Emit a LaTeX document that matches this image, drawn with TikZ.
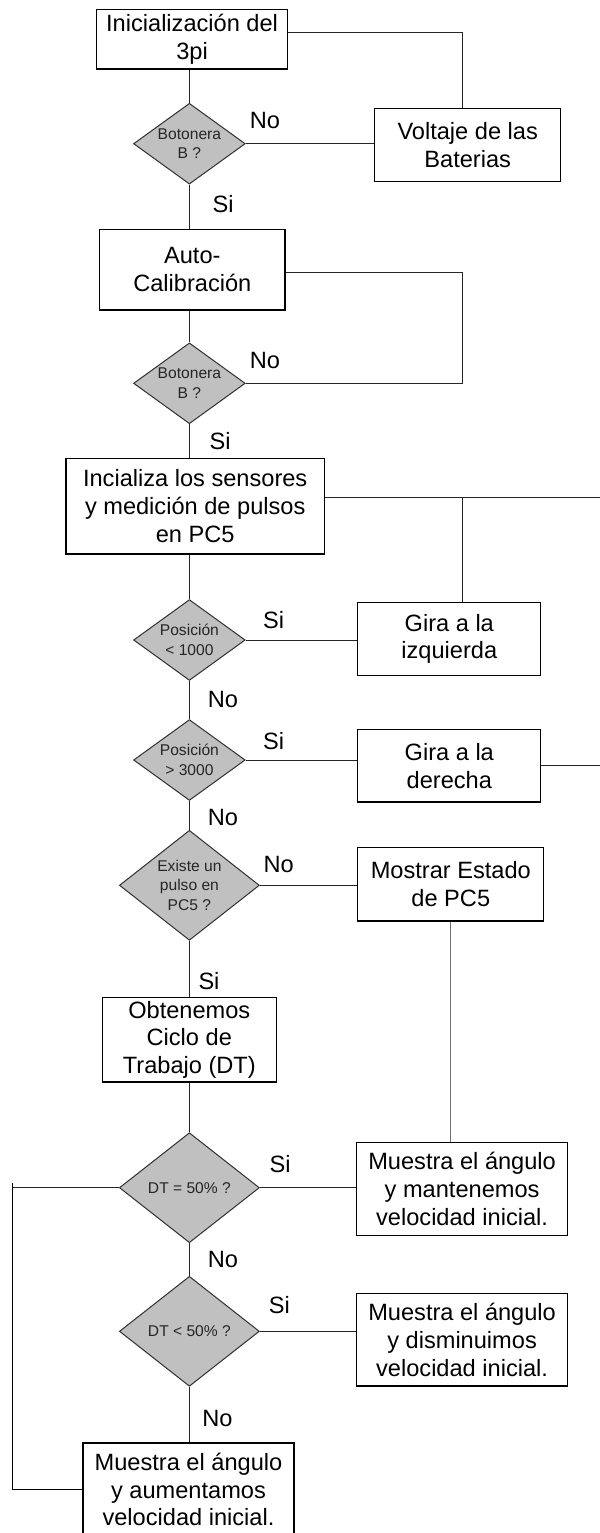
\documentclass[tikz,border=0pt]{standalone}
\usepackage{fontspec}
\setmainfont{Liberation Sans}
\usetikzlibrary{shapes.geometric}
\definecolor{dfill}{HTML}{C0C0C0}
\definecolor{dline}{HTML}{303030}
\definecolor{gline}{HTML}{707070}
\tikzset{
  box/.style={draw=black, line width=0.65pt, fill=white, rectangle, align=center,
    inner sep=0pt, font=\fontsize{11.8}{13.9}\selectfont},
  dec/.style={draw=dline, line width=0.5pt, fill=dfill, diamond, inner sep=0pt,
    minimum width=55.85pt, minimum height=40.4pt},
  decbig/.style={dec, minimum width=70pt, minimum height=55pt},
  dtext/.style={align=center, inner sep=0pt, text=black!85,
    font=\fontsize{7.8}{9.7}\selectfont},
  lbl/.style={inner sep=0pt, font=\fontsize{11.8}{13.9}\selectfont},
  conn/.style={draw=black!85, line width=0.5pt},
  gconn/.style={draw=gline, line width=0.6pt}
}
\begin{document}
\begin{tikzpicture}[x=0.5pt, y=-0.5pt]
\useasboundingbox (0,0) rectangle (600,1533);
\fill[white] (0,0) rectangle (600,1533);

% nodes
\node[box, minimum width=95.7pt, minimum height=29.85pt] (b1) at (192.1,39.2) {Inicialización del\\3pi};
\node[dec, label={[dtext, name=d1t]center:{Botonera\\B ?}}] (d1) at (189.4,143.7) {};
\node[box, minimum width=93pt, minimum height=36.7pt] (v1) at (467.7,145) {Voltaje de las\\Baterias};
\node[box, minimum width=92.8pt, minimum height=40.35pt] (b2) at (192.3,269.7) {Auto-\\Calibración};
\node[dec, label={[dtext, name=d2t]center:{Botonera\\B ?}}] (d2) at (189.4,383.3) {};
\node[box, minimum width=129.35pt, minimum height=47.85pt] (b3) at (195.2,506.2) {Incializa los sensores\\y medición de pulsos\\en PC5};
\node[dec, label={[dtext, name=d3t]center:{Posición\\< 1000}}] (d3) at (189.4,640) {};
\node[box, minimum width=91.5pt, minimum height=36.5pt] (gi) at (449.3,638.8) {Gira a la\\izquierda};
\node[dec, label={[dtext, name=d4t]center:{Posición\\> 3000}}] (d4) at (189.4,760) {};
\node[box, minimum width=91.5pt, minimum height=36.35pt] (gd) at (449.3,765.7) {Gira a la\\derecha};
\node[decbig, label={[dtext, name=d5t]center:{Existe un\\pulso en\\PC5 ?}}] (d5) at (189.4,885.3) {};
\node[box, minimum width=93pt, minimum height=36.65pt] (me) at (450.8,884.3) {Mostrar Estado\\de PC5};
\node[box, minimum width=87pt, minimum height=42.35pt] (ob) at (189.3,1039.7) {Obtenemos\\Ciclo de\\Trabajo (DT)};
\node[decbig, label={[dtext, name=d6t]center:{DT = 50\% ?}}] (d6) at (189.4,1187.7) {};
\node[box, minimum width=105.4pt, minimum height=46.5pt] (m1) at (462.1,1188.8) {Muestra el ángulo\\y mantenemos\\velocidad inicial.};
\node[decbig, label={[dtext, name=d7t]center:{DT < 50\% ?}}] (d7) at (189.4,1331.3) {};
\node[box, minimum width=105.4pt, minimum height=46.35pt] (m2) at (462.1,1339.7) {Muestra el ángulo\\y disminuimos\\velocidad inicial.};
\node[box, minimum width=105.45pt, minimum height=46.5pt] (m3) at (188.5,1489.5) {Muestra el ángulo\\y aumentamos\\velocidad inicial.};

% labels
\node[lbl] (l1) at (265,120) {No};
\node[lbl] (l2) at (223,204) {Si};
\node[lbl] (l3) at (265,360) {No};
\node[lbl] (l4) at (220,440.7) {Si};
\node[lbl] (l5) at (273.6,620) {Si};
\node[lbl] (l6) at (223,699.3) {No};
\node[lbl] (l7) at (273.6,740.7) {Si};
\node[lbl] (l8) at (223,817.3) {No};
\node[lbl] (l9) at (278.6,864) {No};
\node[lbl] (l10) at (209,980.7) {Si};
\node[lbl] (l11) at (280,1164) {Si};
\node[lbl] (l12) at (223,1259.3) {No};
\node[lbl] (l13) at (279.4,1305) {Si};
\node[lbl] (l14) at (217.4,1418.3) {No};

% coordinates for bends
\coordinate (c1) at (462.3,32.3);
\coordinate (c2) at (462.3,272);
\coordinate (c3) at (462.3,497.3);
\coordinate (e1) at (606,497.3);
\coordinate (e2) at (606,765.7);
\coordinate (c4) at (12.8,1187.7);
\coordinate (c5) at (12.8,1183);

% connectors
\path[conn] (d1.north |- b1.south) -- (d1.north);
\path[conn] (b1.east |- c1) -- (c1) -- (c1 |- v1.north);
\path[conn] (d1.east) -- (d1.east -| v1.west);
\path[conn] (d1.south) -- (d1.south |- b2.north);
\path[conn] (b2.east |- c2) -- (c2) |- (d2.east);
\path[conn] (d2.north |- b2.south) -- (d2.north);
\path[conn] (d2.south) -- (d2.south |- b3.north);
\path[conn] (b3.east |- c3) -- (e1);
\path[conn] (c3) -- (c3 |- gi.north);
\path[conn] (d3.north |- b3.south) -- (d3.north);
\path[conn] (d3.east) -- (d3.east -| gi.west);
\path[conn] (d3.south) -- (d4.north);
\path[conn] (d4.east) -- (d4.east -| gd.west);
\path[conn] (gd.east |- e2) -- (e2);
\path[conn] (d4.south) -- (d5.north);
\path[conn] (d5.east) -- (d5.east -| me.west);
\path[gconn] (me.south) -- (me.south |- m1.north);
\path[conn] (d5.south) -- (d5.south |- ob.north);
\path[conn] (d6.north |- ob.south) -- (d6.north);
\path[conn] (d6.east) -- (d6.east -| m1.west);
\path[conn] (d6.south) -- (d7.north);
\path[conn] (d7.east) -- (d7.east -| m2.west);
\path[conn] (d7.south) -- (d7.south |- m3.north);
\path[conn] (d6.west) -- (c4);
\path[conn, draw=black, line width=0.6pt] (c5) |- (m3.west);
\end{tikzpicture}
\end{document}
